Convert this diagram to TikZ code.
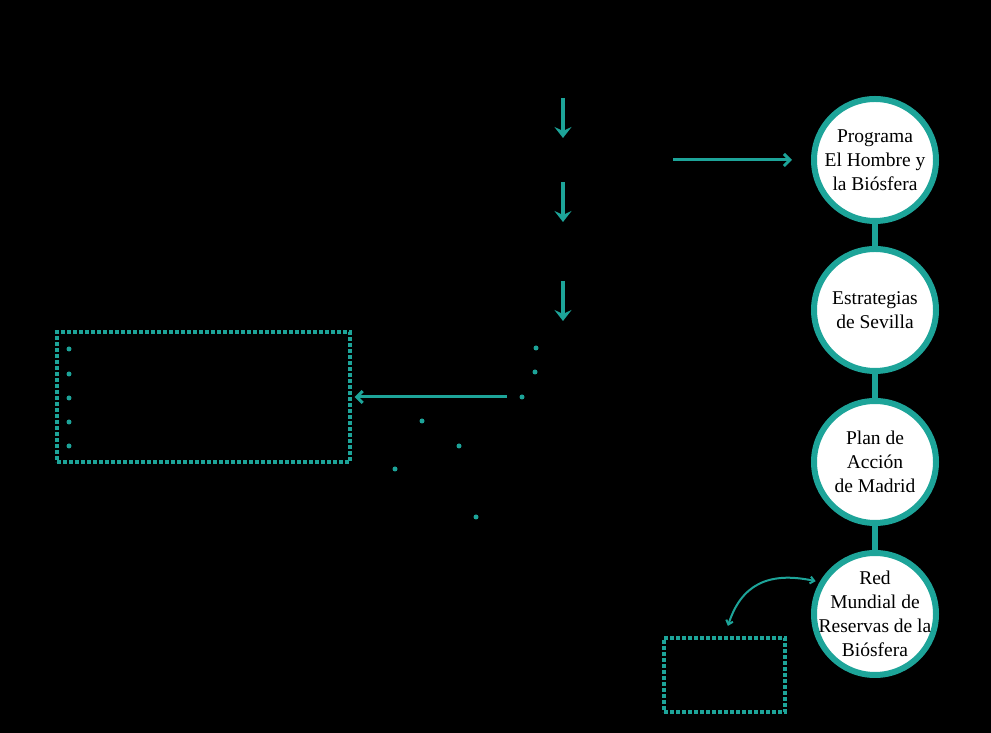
\documentclass[tikz,border=0pt]{standalone}
\usepackage{fontspec}
\setmainfont{Liberation Serif}
\usepackage{tikz}
\usetikzlibrary{arrows.meta,positioning}
\definecolor{verde}{RGB}{29,164,153}

\begin{document}
\begin{tikzpicture}[x=1pt,y=1pt,
  etapa/.style={circle, draw=verde, line width=6pt, fill=white, minimum size=122pt, inner sep=-15pt, align=center, font=\fontsize{19.5}{24}\selectfont},
  caja/.style={draw=verde, line width=3.2pt, dash pattern=on 4pt off 2pt, minimum width=#1},
  punto/.style={circle, fill=verde, inner sep=0pt, minimum size=5pt},
  baja/.style={draw=verde, line width=4pt, -{Stealth[width=17pt,length=11pt,inset=4pt]}},
  flecha/.style={draw=verde, line width=3pt, -{Straight Barb[width=12pt,length=6pt]}}]
  \fill[black] (0,0) rectangle (991,733);
  \useasboundingbox (0,0) rectangle (991,733);
  % etapas
  \draw (875pt, 573pt)node[etapa](prog){Programa\\El Hombre y\\la Biósfera};
  \draw (875pt, 423pt)node[etapa](sev){Estrategias\\de Sevilla};
  \draw (875pt, 271pt)node[etapa](mad){Plan de\\Acción\\de Madrid};
  \draw (875pt, 119pt)node[etapa](red){Red\\Mundial de\\Reservas de la\\Biósfera};
  \draw[verde, line width=6pt] (prog) -- (sev);
  \draw[verde, line width=6pt] (sev) -- (mad);
  \draw[verde, line width=6pt] (mad) -- (red);
  % cajas
  \draw (203.5pt, 336pt)node[caja=293pt, minimum height=130pt](lista){};
  \draw (724.5pt, 58pt)node[caja=121pt, minimum height=74pt](nota){};
  % flechas
  \draw (563pt, 635pt)coordinate(a0) (563pt, 595pt)coordinate(a1);
  \draw (563pt, 551pt)coordinate(b0) (563pt, 511pt)coordinate(b1);
  \draw (563pt, 452pt)coordinate(c0) (563pt, 412pt)coordinate(c1);
  \draw (673pt, 573pt)coordinate(d0) (792pt, 573pt)coordinate(d1);
  \draw (507pt, 336pt)coordinate(e0);
  \draw[baja] (a0) -- (a1);
  \draw[baja] (b0) -- (b1);
  \draw[baja] (c0) -- (c1);
  \draw[flecha] (d0) -- (d1);
  \draw[flecha, shorten >=3pt] (e0) -- (lista.east);
  \draw[verde, line width=2pt, {Straight Barb[width=7pt,length=4pt]}-{Straight Barb[width=7pt,length=4pt]}, shorten <=11pt, shorten >=4pt]
    (nota.north) to[out=72, in=168, looseness=1.25] (red.150);
  % puntos
  \draw (536pt, 385pt)node[punto](p1){};
  \draw (535pt, 361pt)node[punto](p2){};
  \draw (522pt, 336pt)node[punto](p3){};
  \draw (422pt, 312pt)node[punto](p4){};
  \draw (459pt, 287pt)node[punto](p5){};
  \draw (395pt, 264pt)node[punto](p6){};
  \draw (476pt, 216pt)node[punto](p7){};
  \draw (69pt, 384pt)node[punto](l1){};
  \draw (69pt, 359pt)node[punto](l2){};
  \draw (69pt, 335pt)node[punto](l3){};
  \draw (69pt, 311pt)node[punto](l4){};
  \draw (69pt, 287pt)node[punto](l5){};
\end{tikzpicture}
\end{document}
